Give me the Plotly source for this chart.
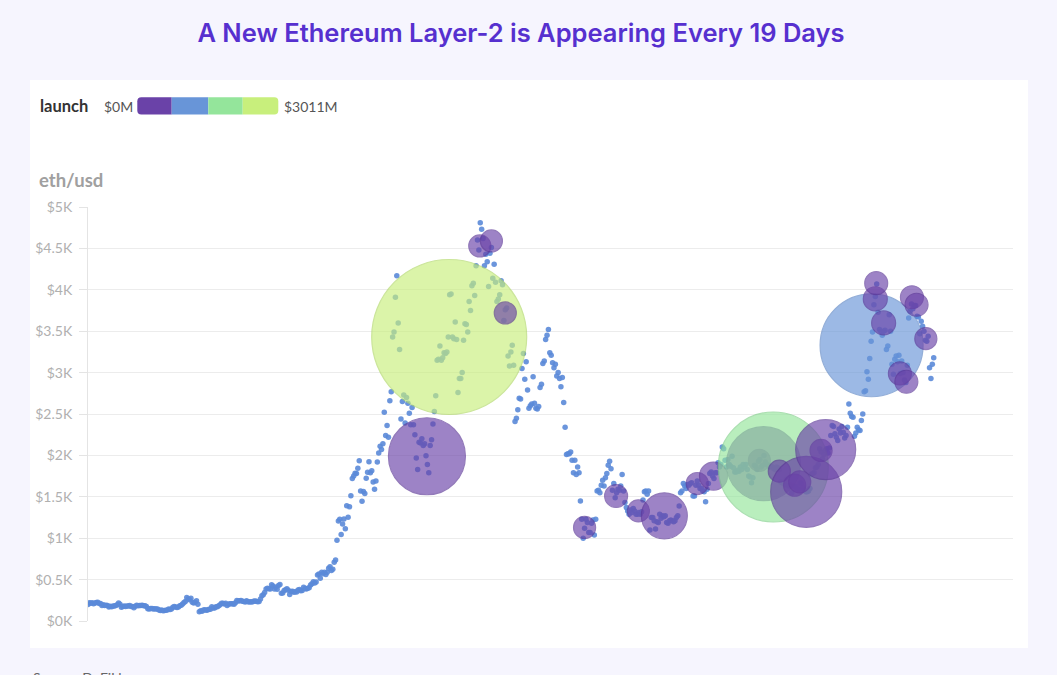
import plotly.graph_objects as go
import pandas as pd

# ---------------- data ----------------
start_date = "2019-07-16"   # ETH/USD sampled every 3 days from this date
eth_usd = [
    # 2019
    200, 220, 213, 219, 207, 218,
    222, 226, 211, 210, 187, 196, 187, 190, 187, 169,
    178, 173, 181, 180, 188, 197, 218, 201, 166, 174,
    180, 176, 180, 180, 186, 176, 175, 160, 179, 190,
    183, 186, 186, 189, 185, 183, 175, 149, 146, 152,
    150, 146, 148, 145, 145, 133, 128, 132, 125, 128, 130,
    # 2020
    134, 144, 140, 146, 165, 174, 169, 162, 170, 184,
    189, 204, 223, 236, 284, 267, 258, 274, 225, 218,
    225, 244, 201, 112, 124, 118, 132, 136, 131, 132,
    141, 143, 173, 158, 157, 171, 171, 185, 197, 215,
    213, 205, 213, 187, 202, 207, 209, 207, 201, 220,
    247, 243, 244, 247, 238, 235, 229, 244, 232, 228,
    231, 229, 239, 241, 239, 232, 237, 265, 304, 317, 345,
    385, 396, 391, 387, 437, 422, 387, 408, 382, 428,
    440, 335, 337, 368, 377, 389, 371, 321, 355, 359,
    346, 353, 350, 375, 380, 366, 369, 409, 393, 386,
    396, 402, 435, 449, 475, 460, 471, 557, 567, 517,
    588, 570, 590, 561, 590, 636, 655, 611, 626, 710, 737,
    # 2021
    975, 1208, 1229, 1044, 1170, 1231, 1115, 1391, 1253, 1379,
    1512, 1720, 1750, 1783, 1780, 1845, 1935, 1570, 1447,
    1565, 1540, 1724, 1795, 1924, 1790, 1815, 1680, 1590, 1690, 1920,
    2030, 2110, 2070, 2140, 2520, 2240, 2360, 2220, 2660, 2770,
    3430, 3490, 3910, 4170, 3600, 3280, 2440, 2650, 2730, 2390,
    2700, 2630, 2510, 2370, 2580, 2370, 2250, 1970, 1830, 2160,
    2150, 2200, 2120, 2140, 1995, 1890, 1790, 2120, 2190, 2380,
    2530, 2720, 3150, 3160, 3320, 3150, 3180, 3240, 3230, 3250, 3430,
    3940, 3950, 3430, 3410, 3610, 3400, 2760, 2930, 2930, 3000,
    3390, 3590, 3580, 3490, 3860, 3750, 4050, 4080, 3930, 4290,
    4600, 4480, 4810, 4730, 4620, 4290, 4430, 4340, 4040, 4440,
    4510, 4140, 4310, 4090, 3860, 3890, 3940, 4110, 4060, 3630,
    # 2022
    3760, 3780, 3200, 3080, 3250, 3330, 3090, 2410, 2450, 2550, 2690,
    2680, 3050, 3230, 2920, 3130, 2790, 2570, 2600, 2620,
    2950, 2630, 2570, 2560, 2590, 2820, 2860, 3110, 3140, 3400,
    3450, 3520, 3240, 3210, 3120, 3060, 3100, 2960, 3000, 2930,
    2830, 2940, 2640, 2340, 2010, 2020, 2020, 2040, 1940, 1790, 1940,
    1770, 1860, 1790, 1450, 1230, 1000, 1120, 1230, 1190, 1070,
    1070, 1180, 1220, 1040, 1230, 1570, 1580, 1550, 1640, 1700,
    1630, 1730, 1780, 1880, 1930, 1840, 1580, 1660, 1490, 1550,
    1590, 1580, 1630, 1770, 1570, 1430, 1370, 1330, 1290, 1340,
    1310, 1360, 1330, 1290, 1290, 1310, 1290, 1320, 1460, 1560, 1570,
    1530, 1570, 1100, 1250, 1250, 1210, 1110, 1200, 1190, 1290,
    1240, 1270, 1260, 1270, 1190, 1180, 1210, 1220, 1210, 1200,
    # 2023
    1210, 1250, 1270, 1390, 1550, 1570, 1660, 1630, 1600, 1650,
    1640, 1660, 1670, 1510, 1510, 1640, 1690, 1640, 1600, 1600,
    1570, 1560, 1440, 1590, 1660, 1780, 1800, 1750, 1720, 1790,
    1790, 1910, 1860, 1890, 2100, 2080, 1940, 1860, 1950, 1890,
    1870, 1990, 1850, 1800, 1800, 1820, 1810, 1860, 1830, 1890,
    1860, 1890, 1830, 1750, 1740, 1670, 1730, 1880, 1870, 1830,
    1930, 1950, 1860, 1880, 2000, 1920, 1890, 1880, 1860, 1870, 1860,
    1840, 1830, 1860, 1850, 1830, 1680, 1670, 1660, 1650, 1710,
    1640, 1630, 1640, 1550, 1630, 1620, 1620, 1590, 1590, 1670,
    1660, 1610, 1580, 1560, 1560, 1570, 1600, 1770, 1780, 1790,
    1850, 1860, 1890, 2080, 2040, 1960, 2010, 2060, 2080, 2030,
    2090, 2240, 2360, 2350, 2260, 2220, 2180, 2320, 2270, 2350, 2280,
    # 2024
    2210, 2240, 2340, 2620, 2510, 2470, 2460, 2230, 2270, 2340,
    2310, 2300, 2420, 2500, 2770, 2780, 3010, 2920, 3170, 3380,
    3490, 3820, 3920, 4070, 3730, 3520, 3500, 3450, 3500, 3510,
    3280, 3320, 3700, 3500, 3100, 2980, 3160, 3200, 3130, 3210,
    2990, 3140, 3000, 2910, 2880, 3090, 3660, 3740, 3830, 3770,
    3810, 3810, 3680, 3670, 3470, 3620, 3560, 3500, 3390, 3380,
    3440, 3060, 2930, 3100, 3180,
]

# Layer-2 launches (chronological)
launch_dates = [
    "2021-07-16", "2021-09-02", "2021-11-07", "2021-12-02", "2022-01-01",
    "2022-06-21", "2022-08-28", "2022-10-15", "2022-12-10", "2023-02-19",
    "2023-03-26", "2023-07-03", "2023-07-12", "2023-08-02", "2023-08-15",
    "2023-09-17", "2023-09-28", "2023-10-12", "2023-11-13", "2023-11-23",
    "2024-03-01", "2024-03-09", "2024-03-11", "2024-03-27", "2024-05-01",
    "2024-05-15", "2024-05-27", "2024-06-06", "2024-06-26",
]
launch_price = [
    1990, 3430, 4530, 4590, 3720,
    1130, 1510, 1330, 1270, 1660,
    1750, 1940, 1900, 1860, 1810,
    1640, 1680, 1560, 2060, 2070,
    3330, 3890, 4080, 3600, 2990,
    2890, 3910, 3820, 3410,
]
tvl_size = [  # $M, bubble area
    743, 3011, 61, 61, 61,
    61, 66, 61, 265, 61,
    98, 61, 686, 1516, 61,
    61, 61, 632, 61, 451,
    1329, 72, 66, 72, 66,
    66, 66, 66, 61,
]
tvl_launch = [  # $M, bubble colour
    300, 3011, 50, 80, 40,
    20, 30, 10, 120, 15,
    60, 20, 250, 1900, 30,
    25, 35, 400, 20, 350,
    1150, 40, 30, 60, 20,
    20, 30, 25, 45,
]
tvl_min, tvl_max = 0, 3011

y_tickvals = [0, 500, 1000, 1500, 2000, 2500, 3000, 3500, 4000, 4500, 5000]
y_ticktext = ["$0K", "$0.5K", "$1K", "$1.5K", "$2K", "$2.5K", "$3K",
              "$3.5K", "$4K", "$4.5K", "$5K"]

legend_colors = ["#6a42a8", "#6895d8", "#94e59b", "#c8ef7c"]
legend_dark = ["#5a3496", "#5a84c4", "#7fcf88", "#b0d866"]

# ---------------- layout helpers ----------------
W, H = 1057, 675
ML, MR, MT, MB = 88, 44, 207, 54
PW, PH = W - ML - MR, H - MT - MB


def px(x):
    return (x - ML) / PW


def py(y):
    return (H - MB - y) / PH


def discrete_scale(cols):
    n = len(cols)
    out = []
    for i, c in enumerate(cols):
        out.append([i / n, c])
        out.append([(i + 1) / n, c])
    return out


dates = pd.date_range(start_date, periods=len(eth_usd), freq="3D")

fig = go.Figure()

fig.add_trace(go.Scatter(
    x=dates, y=eth_usd, mode="markers",
    marker=dict(size=5.5, color="#5b8ad8", opacity=0.9, line=dict(width=0)),
    hoverinfo="skip", showlegend=False,
))

max_d = 155
fig.add_trace(go.Scatter(
    x=launch_dates, y=launch_price, mode="markers",
    marker=dict(
        size=tvl_size, sizemode="area", sizeref=2 * max(tvl_size) / max_d ** 2,
        color=tvl_launch, colorscale=discrete_scale(legend_colors),
        cmin=tvl_min, cmax=tvl_max, opacity=0.65, showscale=False,
        line=dict(width=1.2, color=tvl_launch,
                  colorscale=discrete_scale(legend_dark),
                  cmin=tvl_min, cmax=tvl_max),
    ),
    showlegend=False,
))

shapes = [
    dict(type="rect", xref="paper", yref="paper",
         x0=px(30), x1=px(1028), y0=py(648), y1=py(80),
         fillcolor="white", line=dict(width=0), layer="below"),
]
# colour legend bar
seg_x = [137.3, 171.7, 208.3, 242.7, 278.3]
yb, yt = py(114.5), py(97.3)
rx, ry = 4 / PW, 4 / PH
for i, c in enumerate(legend_colors):
    x0, x1 = px(seg_x[i]), px(seg_x[i + 1])
    if i == 0:
        path = (f"M {x0+rx},{yt} L {x1},{yt} L {x1},{yb} L {x0+rx},{yb} "
                f"Q {x0},{yb} {x0},{yb+ry} L {x0},{yt-ry} Q {x0},{yt} {x0+rx},{yt} Z")
        shapes.append(dict(type="path", xref="paper", yref="paper", path=path,
                           fillcolor=c, line=dict(width=0)))
    elif i == len(legend_colors) - 1:
        path = (f"M {x0},{yt} L {x1-rx},{yt} Q {x1},{yt} {x1},{yt-ry} "
                f"L {x1},{yb+ry} Q {x1},{yb} {x1-rx},{yb} L {x0},{yb} Z")
        shapes.append(dict(type="path", xref="paper", yref="paper", path=path,
                           fillcolor=c, line=dict(width=0)))
    else:
        shapes.append(dict(type="rect", xref="paper", yref="paper",
                           x0=x0, x1=x1, y0=yb, y1=yt,
                           fillcolor=c, line=dict(width=0)))

annotations = [
    dict(text="<b>launch</b>", x=px(38), y=py(106), xref="paper", yref="paper",
         xanchor="left", yanchor="middle", showarrow=False,
         font=dict(family="Lato", size=16.5, color="#333333")),
    dict(text="$0M", x=px(102), y=py(106), xref="paper", yref="paper",
         xanchor="left", yanchor="middle", showarrow=False,
         font=dict(family="Lato", size=14, color="#555555")),
    dict(text="$3011M", x=px(282), y=py(106), xref="paper", yref="paper",
         xanchor="left", yanchor="middle", showarrow=False,
         font=dict(family="Lato", size=14, color="#555555")),
    dict(text="<b>eth/usd</b>", x=px(37), y=py(180), xref="paper", yref="paper",
         xanchor="left", yanchor="middle", showarrow=False,
         font=dict(family="Lato", size=18.5, color="#a0a0a0")),
    dict(text="Source: DeFiLlama", x=px(31), y=py(667), xref="paper", yref="paper",
         xanchor="left", yanchor="top", showarrow=False,
         font=dict(family="Lato", size=14, color="#666666")),
]

fig.update_layout(
    width=W, height=H,
    margin=dict(l=ML, r=MR, t=MT, b=MB, pad=0),
    paper_bgcolor="#f6f5fe", plot_bgcolor="rgba(0,0,0,0)",
    title=dict(text="A New Ethereum Layer-2 is Appearing Every 19 Days",
               x=521 / W, y=1 - 33 / H, xref="container", yref="container",
               xanchor="center", yanchor="middle",
               font=dict(family="Inter", size=25.5, color="#5630cf", weight=600)),
    xaxis=dict(type="date", range=["2019-07-16", "2024-12-31"], visible=False),
    yaxis=dict(range=[0, 5000], tickvals=y_tickvals, ticktext=y_ticktext,
               showgrid=True, gridcolor="#ececec", gridwidth=1,
               showline=True, linecolor="#e4e4e4", linewidth=1,
               ticks="outside", ticklen=8, tickcolor="#e4e4e4",
               ticklabelstandoff=4,
               zeroline=False, fixedrange=True,
               tickfont=dict(family="Lato", size=14, color="#b0b0b0")),
    shapes=shapes, annotations=annotations,
    showlegend=False, hovermode="closest",
)

fig.write_html(
    "out.html",
    config={"displayModeBar": False},
    post_script="document.body.style.margin='0px';document.body.style.overflow='hidden';",
)
